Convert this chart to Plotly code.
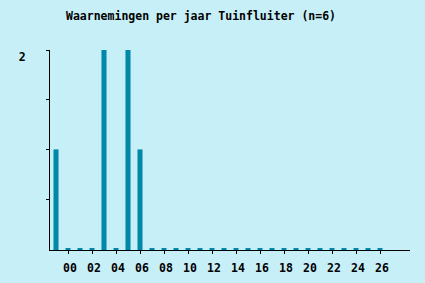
import plotly.graph_objects as go

years = list(range(1999, 2027))
counts = [1, 0, 0, 0, 2, 0, 2, 1] + [0] * 20
tick_years = list(range(2000, 2027, 2))
tick_labels = [f"{y % 100:02d}" for y in tick_years]
title_text = "Waarnemingen per jaar Tuinfluiter (n=6)"

BG = "#c7eff7"
BAR = "#0088a8"
FONT = "DejaVu Sans Mono"
stub = 0.012

fig = go.Figure()
fig.add_trace(go.Bar(
    x=years,
    y=[c + stub for c in counts],
    base=[-stub] * len(counts),
    width=0.42,
    marker=dict(color=BAR, line=dict(width=0)),
    hoverinfo="skip",
))

fig.update_layout(
    width=425, height=283,
    margin=dict(l=50, r=15, t=50, b=33, autoexpand=False),
    paper_bgcolor=BG, plot_bgcolor=BG,
    showlegend=False,
    title=dict(text="<b>" + title_text + "</b>", x=0.473, xanchor="center",
               y=1 - 16 / 283, yanchor="middle",
               font=dict(family=FONT, size=11.5, color="black")),
    font=dict(family=FONT, size=11.5, color="black"),
)
fig.update_xaxes(
    range=[1998.5, 2028.5],
    tickvals=tick_years,
    ticktext=["<b>" + t + "</b>" for t in tick_labels],
    ticks="outside", ticklen=3, tickcolor="black", tickwidth=1,
    showline=True, linecolor="black", linewidth=1,
    showgrid=False, zeroline=False, automargin=False,
    ticklabelshift=2, ticklabelstandoff=4,
    tickfont=dict(family=FONT, size=11.5, color="black"),
)
fig.update_yaxes(
    range=[-stub, 2],
    tickvals=[0.5, 1, 1.5, 2],
    ticktext=["", "", "", "<b>2</b>"],
    ticks="outside", ticklen=3, tickcolor="black", tickwidth=1,
    showline=True, linecolor="black", linewidth=1,
    showgrid=False, zeroline=False, automargin=False,
    ticklabelstandoff=18, ticklabelshift=7,
    tickfont=dict(family=FONT, size=11.5, color="black"),
)

fig.write_html("out.html")
